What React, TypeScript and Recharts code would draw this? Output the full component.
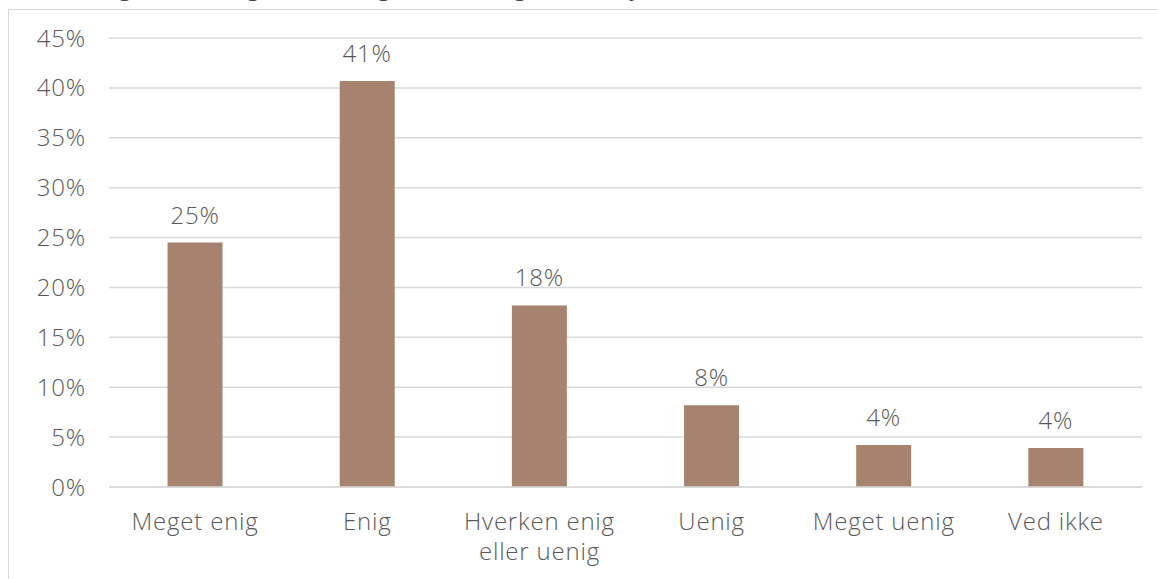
import { BarChart, Bar, XAxis, YAxis, CartesianGrid, LabelList } from 'recharts';

const categories = ['Meget enig', 'Enig', 'Hverken enig eller uenig', 'Uenig', 'Meget uenig', 'Ved ikke'];
const shares = [24.5, 40.7, 18.2, 8.2, 4.2, 3.9];
const yTicks = [0, 5, 10, 15, 20, 25, 30, 35, 40, 45];

const title = 'Hvor enig eller uenig er du i følgende udsagn om dit job';

const chartData = categories.map((name, i) => ({ name, value: shares[i] }));

const FONT = '"Open Sans", Lato, sans-serif';
const TEXT = '#595959';
const SPACING = 0.8;

const wrapLabel = (value: string) =>
    value === 'Hverken enig eller uenig' ? ['Hverken enig', 'eller uenig'] : [value];

function CategoryTick({ x, y, payload }: any) {
    const lines = wrapLabel(String(payload.value));
    return (
        <g transform={`translate(${x},${y})`}>
            {lines.map((line, i) => (
                <text
                    key={line}
                    x={0}
                    y={35 + i * 30}
                    textAnchor="middle"
                    fill={TEXT}
                    fontSize={24}
                    fontWeight={300}
                    fontFamily={FONT}
                    letterSpacing={SPACING}
                >
                    {line}
                </text>
            ))}
        </g>
    );
}

export default function App() {
    return (
        <div style={{ position: 'absolute', left: 0, top: 0, width: 1157, height: 579, overflow: 'hidden', background: '#fff' }}>
            <div
                style={{
                    position: 'absolute',
                    left: 20,
                    top: -33,
                    fontFamily: FONT,
                    fontSize: 26,
                    fontWeight: 300,
                    color: '#404040',
                    whiteSpace: 'nowrap',
                }}
            >
                {title}
            </div>
            <div
                style={{
                    position: 'absolute',
                    left: 8,
                    top: 9,
                    width: 1200,
                    height: 600,
                    borderLeft: '1px solid #d9d9d9',
                    borderTop: '1px solid #d9d9d9',
                    background: '#fff',
                }}
            />
            <BarChart
                width={1157}
                height={579}
                data={chartData}
                margin={{ top: 38, right: 15, left: 0, bottom: 0 }}
                barCategoryGap="34%"
                style={{ position: 'absolute', left: 0, top: 0 }}
            >
                <CartesianGrid vertical={false} stroke="#d9d9d9" strokeWidth={1.5} />
                <XAxis
                    dataKey="name"
                    height={92}
                    axisLine={{ stroke: '#d9d9d9', strokeWidth: 1.5 }}
                    tickLine={false}
                    interval={0}
                    tick={<CategoryTick />}
                />
                <YAxis
                    width={109}
                    domain={[0, 45]}
                    ticks={yTicks}
                    axisLine={false}
                    tickLine={false}
                    tickSize={0}
                    tickMargin={23}
                    tickFormatter={(v: number) => `${v}%`}
                    tick={{ fill: TEXT, fontSize: 24, fontWeight: 300, fontFamily: FONT, letterSpacing: SPACING }}
                />
                <Bar dataKey="value" fill="#a5836e" isAnimationActive={false}>
                    <LabelList
                        dataKey="value"
                        position="top"
                        offset={19}
                        formatter={(v: any) => `${Math.round(Number(v))}%`}
                        fill={TEXT}
                        fontSize={24}
                        fontWeight={300}
                        fontFamily={FONT}
                        letterSpacing={SPACING}
                    />
                </Bar>
            </BarChart>
        </div>
    );
}
